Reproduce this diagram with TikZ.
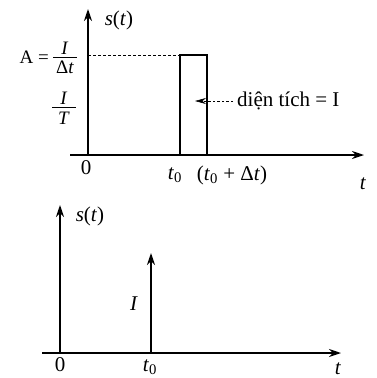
\documentclass[tikz,border=0pt]{standalone}
\usepackage{fontspec}
\setmainfont{Liberation Serif}
\usetikzlibrary{arrows.meta}
\begin{document}
\begin{tikzpicture}[x=1pt,y=-1pt,
  ax/.style={line width=1.3pt,-{Stealth[length=12pt,width=8pt]}},
  lbl/.style={inner sep=0pt,font=\fontsize{21}{24}\selectfont},
  fr/.style={inner sep=0pt,anchor=base,font=\fontsize{19}{22}\selectfont},
  ln/.style={line width=1.4pt},
  bar/.style={line width=0.9pt}]
\useasboundingbox (0,0) rectangle (376,378);
% ---- top plot ----
\coordinate (o1) at (88,155);
\coordinate (yt1) at (88,9);
\coordinate (xs1) at (70,155);
\coordinate (xt1) at (364,155);
\draw[ax] (o1) -- (yt1);
\draw[ax] (xs1) -- (xt1);
\coordinate (ra) at (180,155);
\coordinate (rb) at (180,55);
\coordinate (rc) at (207,55);
\coordinate (rd) at (207,155);
\draw[ln] (ra) -- (rb) -- (rc) -- (rd);
\coordinate (d0) at (88,55);
\draw[dash pattern=on 2.5pt off 2.5pt,line width=0.6pt] (d0) -- (rb);
\node[lbl] (s1) at (119,20) {\textit{s}(\textit{t})};
% A = I / Delta t
\node[fr,anchor=base east] (A) at (49,63) {A =};
\coordinate (b1l) at (53,57);
\coordinate (b1r) at (77,57);
\draw[bar] (b1l) -- (b1r);
\node[fr] (An) at (65,54) {\textit{I}};
\node[fr] (Ad) at (65,73) {Δ\textit{t}};
% I / T
\coordinate (b2l) at (52,107);
\coordinate (b2r) at (76,107);
\draw[bar] (b2l) -- (b2r);
\node[fr] (In) at (64,104) {\textit{I}};
\node[fr] (Td) at (64,124) {\textit{T}};
\node[lbl,anchor=west] (dt) at (237,101) {diện tích = I};
\coordinate (aw) at (195,101);
\draw[line width=0.6pt,dash pattern=on 2.5pt off 2pt,-{Stealth[length=11pt,width=6pt]}] ([xshift=-4pt]dt.west) -- (aw);
\node[lbl] (z1) at (86,168) {0};
\node[lbl] (t01) at (175,175) {\textit{t}\textsubscript{0}};
\node[lbl] (t0d) at (232,175) {(\textit{t}\textsubscript{0} + Δ\textit{t})};
\node[lbl] (tt1) at (363,184) {\textit{t}};
% ---- bottom plot ----
\coordinate (o2) at (60,353);
\coordinate (yt2) at (60,205);
\coordinate (xs2) at (42,353);
\coordinate (xt2) at (341,353);
\draw[ax] (o2) -- (yt2);
\draw[ax] (xs2) -- (xt2);
\coordinate (ib) at (151,353);
\coordinate (it) at (151,253);
\draw[ax] (ib) -- (it);
\node[lbl] (s2) at (90,216) {\textit{s}(\textit{t})};
\node[lbl] (I2) at (134,304) {\textit{I}};
\node[lbl] (z2) at (60,365) {0};
\node[lbl] (t02) at (150,367) {\textit{t}\textsubscript{0}};
\node[lbl] (tt2) at (338,369) {\textit{t}};
\end{tikzpicture}
\end{document}
